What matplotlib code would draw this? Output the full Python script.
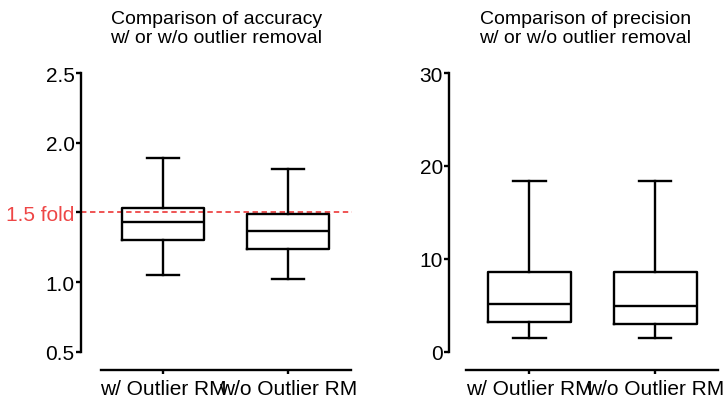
'''
box plots comparing accuracy and precision with or without outlier removal
'''

import matplotlib
matplotlib.use('Agg')
import matplotlib.pyplot as plt

plt.rcParams['font.family'] = ['Liberation Sans', 'DejaVu Sans']

GROUPS = ['w/ Outlier RM', 'w/o Outlier RM']

# whisker low, Q1, median, Q3, whisker high
ACC_LOW = [1.05, 1.024]
ACC_Q1 = [1.304, 1.235]
ACC_MED = [1.433, 1.369]
ACC_Q3 = [1.534, 1.486]
ACC_HIGH = [1.89, 1.814]

PREC_LOW = [1.5, 1.5]
PREC_Q1 = [3.16, 3.01]
PREC_MED = [5.1, 4.95]
PREC_Q3 = [8.55, 8.55]
PREC_HIGH = [18.34, 18.37]

FOLD = 1.5
RED = '#ee4646'
LW = 1.7


def make_stats(low, q1, med, q3, high):
    '''
    build the list of dicts that Axes.bxp wants
    '''
    stats = []
    for i in range(len(low)):
        stats.append({'whislo': low[i], 'q1': q1[i], 'med': med[i],
                      'q3': q3[i], 'whishi': high[i], 'fliers': []})
    return stats


def style_axes(ax_, xlim, ylim):
    '''
    prism-like axes: detached bottom spine, no top/right spines
    '''
    ax_.set_xlim(*xlim)
    ax_.set_ylim(*ylim)
    ax_.spines['top'].set_visible(False)
    ax_.spines['right'].set_visible(False)
    ax_.spines['left'].set_linewidth(LW)
    ax_.spines['bottom'].set_linewidth(LW)
    ax_.spines['left'].set_bounds(*ylim)
    ax_.spines['bottom'].set_bounds(0.5, 2.5)
    ax_.spines['bottom'].set_position(('outward', 13))
    ax_.tick_params(axis='y', length=3.6, width=LW, pad=1, labelsize=15)
    ax_.tick_params(axis='x', length=3, width=LW, pad=3.5, labelsize=15)
    ax_.set_xticks([1, 2])
    ax_.set_xticklabels(GROUPS)


fig = plt.figure(figsize=(7.25, 4.06), dpi=100)
ax1 = fig.add_axes([0.1117, 0.1313, 0.3738, 0.6864])
ax2 = fig.add_axes([0.6197, 0.1313, 0.3757, 0.6864])

box_kw = dict(widths=0.66, showfliers=False, patch_artist=False,
              boxprops=dict(color='black', linewidth=LW),
              whiskerprops=dict(color='black', linewidth=LW),
              capprops=dict(color='black', linewidth=LW),
              medianprops=dict(color='black', linewidth=LW))

ax1.bxp(make_stats(ACC_LOW, ACC_Q1, ACC_MED, ACC_Q3, ACC_HIGH),
        positions=[1, 2], capwidths=0.26, **box_kw)
ax2.bxp(make_stats(PREC_LOW, PREC_Q1, PREC_MED, PREC_Q3, PREC_HIGH),
        positions=[1, 2], capwidths=0.26, **box_kw)

style_axes(ax1, (0.344, 2.51), (0.5, 2.5))
style_axes(ax2, (0.364, 2.53), (0, 30))

ax1.axhline(FOLD, xmin=0, xmax=1, color=RED, linestyle=(0, (3, 2)),
            linewidth=1.3, zorder=0)
ax1.set_yticks([0.5, 1.0, 1.5, 2.0, 2.5])
ax1.set_yticklabels(['0.5', '1.0', '1.5 fold', '2.0', '2.5'])
ax1.get_yticklabels()[2].set_color(RED)
ax2.set_yticks([0, 10, 20, 30])

ax1.set_title('Comparison of accuracy\nw/ or w/o outlier removal',
              fontsize=14, pad=22)
ax2.set_title('Comparison of precision\nw/ or w/o outlier removal',
              fontsize=14, pad=22)

fig.savefig('out.png', dpi=100)
